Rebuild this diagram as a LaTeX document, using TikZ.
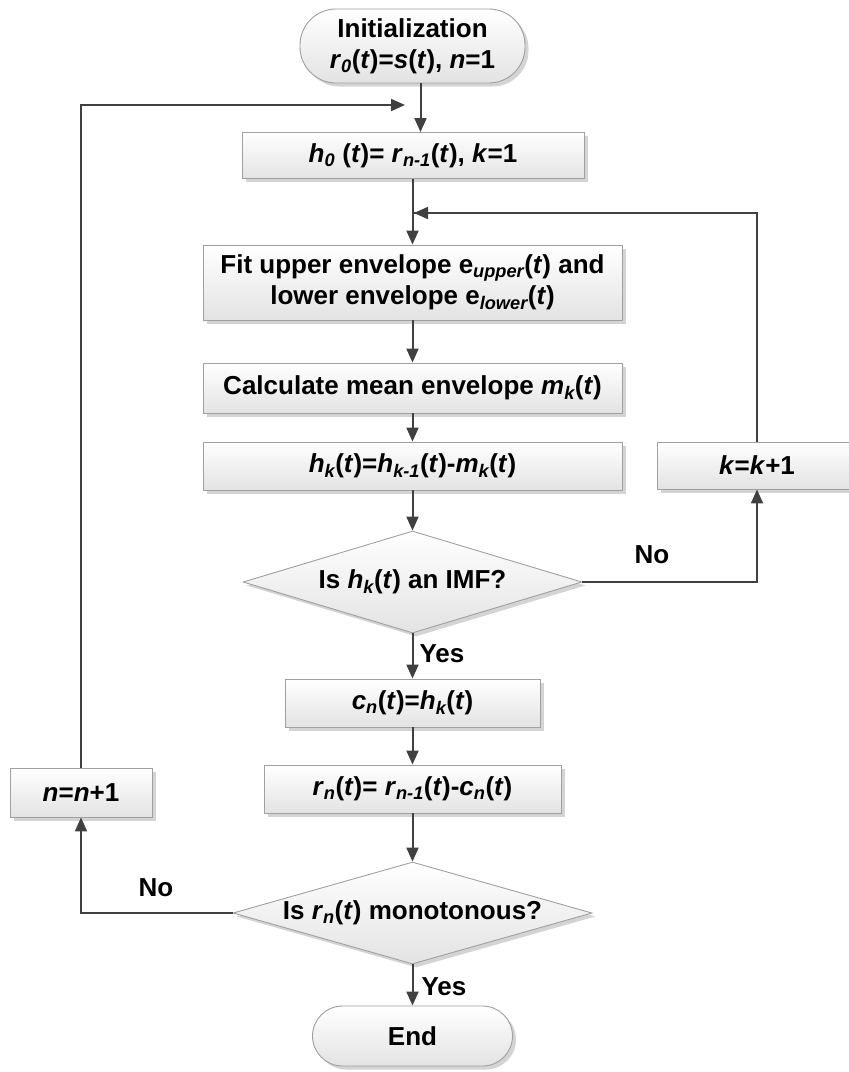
\documentclass[tikz,border=0pt]{standalone}
\usepackage{fontspec}
\setmainfont{Liberation Sans}
\usetikzlibrary{shapes.geometric,arrows.meta,shadows}
\newcommand\vi[1]{\textit{#1}}
\newcommand\sbi[1]{\textsubscript{\itshape #1}}
\definecolor{edgegray}{HTML}{A0A0A0}
\definecolor{arrgray}{HTML}{404040}
\definecolor{shgray}{HTML}{D4D4D4}
\tikzset{
  base/.style={draw=edgegray, line width=0.9pt, top color=white, bottom color=black!11,
    font=\fontsize{26}{31}\selectfont\bfseries, align=center, inner sep=0pt,
    drop shadow={shadow xshift=3.5pt, shadow yshift=-3.5pt, fill=shgray, opacity=1}},
  procbox/.style={base, rectangle},
  termbox/.style={base, rectangle, rounded corners=36pt},
  decbox/.style={base, diamond, aspect=3.5},
  arr/.style={draw=arrgray, line width=2pt, -{Triangle[length=14pt,width=12pt]}},
  lbl/.style={font=\fontsize{26}{31}\selectfont\bfseries, inner sep=0pt}
}
\begin{document}
\begin{tikzpicture}[x=1pt, y=-1pt]
\useasboundingbox (0,0) rectangle (849,1072);
\node[termbox, minimum width=225pt, minimum height=74pt] (init) at (412.5,46)
  {Initialization\\ \vi{r}\sbi{0}(\vi{t})=\vi{s}(\vi{t}), \vi{n}=1};
\node[procbox, minimum width=342pt, minimum height=46pt] (h0) at (413,155.5)
  {\vi{h}\sbi{0} (\vi{t})= \vi{r}\sbi{n-1}(\vi{t}), \vi{k}=1};
\node[procbox, minimum width=419pt, minimum height=75pt] (fit) at (412.5,282.5)
  {Fit upper envelope e\sbi{upper}(\vi{t}) and\\ lower envelope e\sbi{lower}(\vi{t})};
\node[procbox, minimum width=419pt, minimum height=50pt] (calc) at (412.5,388)
  {Calculate mean envelope \vi{m}\sbi{k}(\vi{t})};
\node[procbox, minimum width=419pt, minimum height=48pt] (hk) at (412.5,466)
  {\vi{h}\sbi{k}(\vi{t})=\vi{h}\sbi{k-1}(\vi{t})-\vi{m}\sbi{k}(\vi{t})};
\node[procbox, minimum width=200pt, minimum height=47pt] (kk) at (757,465.5)
  {\vi{k}=\vi{k}+1};
\node[decbox, minimum width=339pt, minimum height=102pt] (d1) at (412.5,582)
  {Is \vi{h}\sbi{k}(\vi{t}) an IMF?};
\node[procbox, minimum width=255pt, minimum height=48pt] (cn) at (412.5,703)
  {\vi{c}\sbi{n}(\vi{t})=\vi{h}\sbi{k}(\vi{t})};
\node[procbox, minimum width=297pt, minimum height=48pt] (rn) at (412.5,789)
  {\vi{r}\sbi{n}(\vi{t})= \vi{r}\sbi{n-1}(\vi{t})-\vi{c}\sbi{n}(\vi{t})};
\node[decbox, minimum width=359pt, minimum height=102pt] (d2) at (412.5,913)
  {Is \vi{r}\sbi{n}(\vi{t}) monotonous?};
\node[termbox, minimum width=200pt, minimum height=60pt, rounded corners=30pt] (end) at (412.5,1036)
  {End};
\node[procbox, minimum width=142pt, minimum height=49pt] (nn) at (81,792.5)
  {\vi{n}=\vi{n}+1};
\coordinate (kj) at (414,213);
\coordinate (lj) at (405,105);
% connectors
\draw[arr] ([xshift=8pt]init.south) -- ([xshift=8pt]init.south |- h0.north);
\draw[arr] (h0.south -| fit.north) -- (fit.north);
\draw[arr] (fit) -- (calc);
\draw[arr] (calc) -- (hk);
\draw[arr] (hk) -- (d1);
\draw[arr] (d1) -- (cn) node[lbl, pos=0.45, anchor=west, xshift=6pt] {Yes};
\draw[arr] (cn) -- (rn);
\draw[arr] (rn) -- (d2);
\draw[arr] (d2) -- (end) node[lbl, pos=0.5, anchor=west, xshift=8pt, yshift=-2pt] {Yes};
\draw[arr] (d1.east) -| (kk.south);
\node[lbl] (no1) at (652,555) {No};
\draw[arr, -] (kk.north) |- (kj);
\draw[arr] (kk.north |- kj) -- (kj);
\draw[arr] (d2.west) -| (nn.south);
\node[lbl] (no2) at (156,888) {No};
\draw[arr] (nn.north) |- (lj);
\end{tikzpicture}
\end{document}
